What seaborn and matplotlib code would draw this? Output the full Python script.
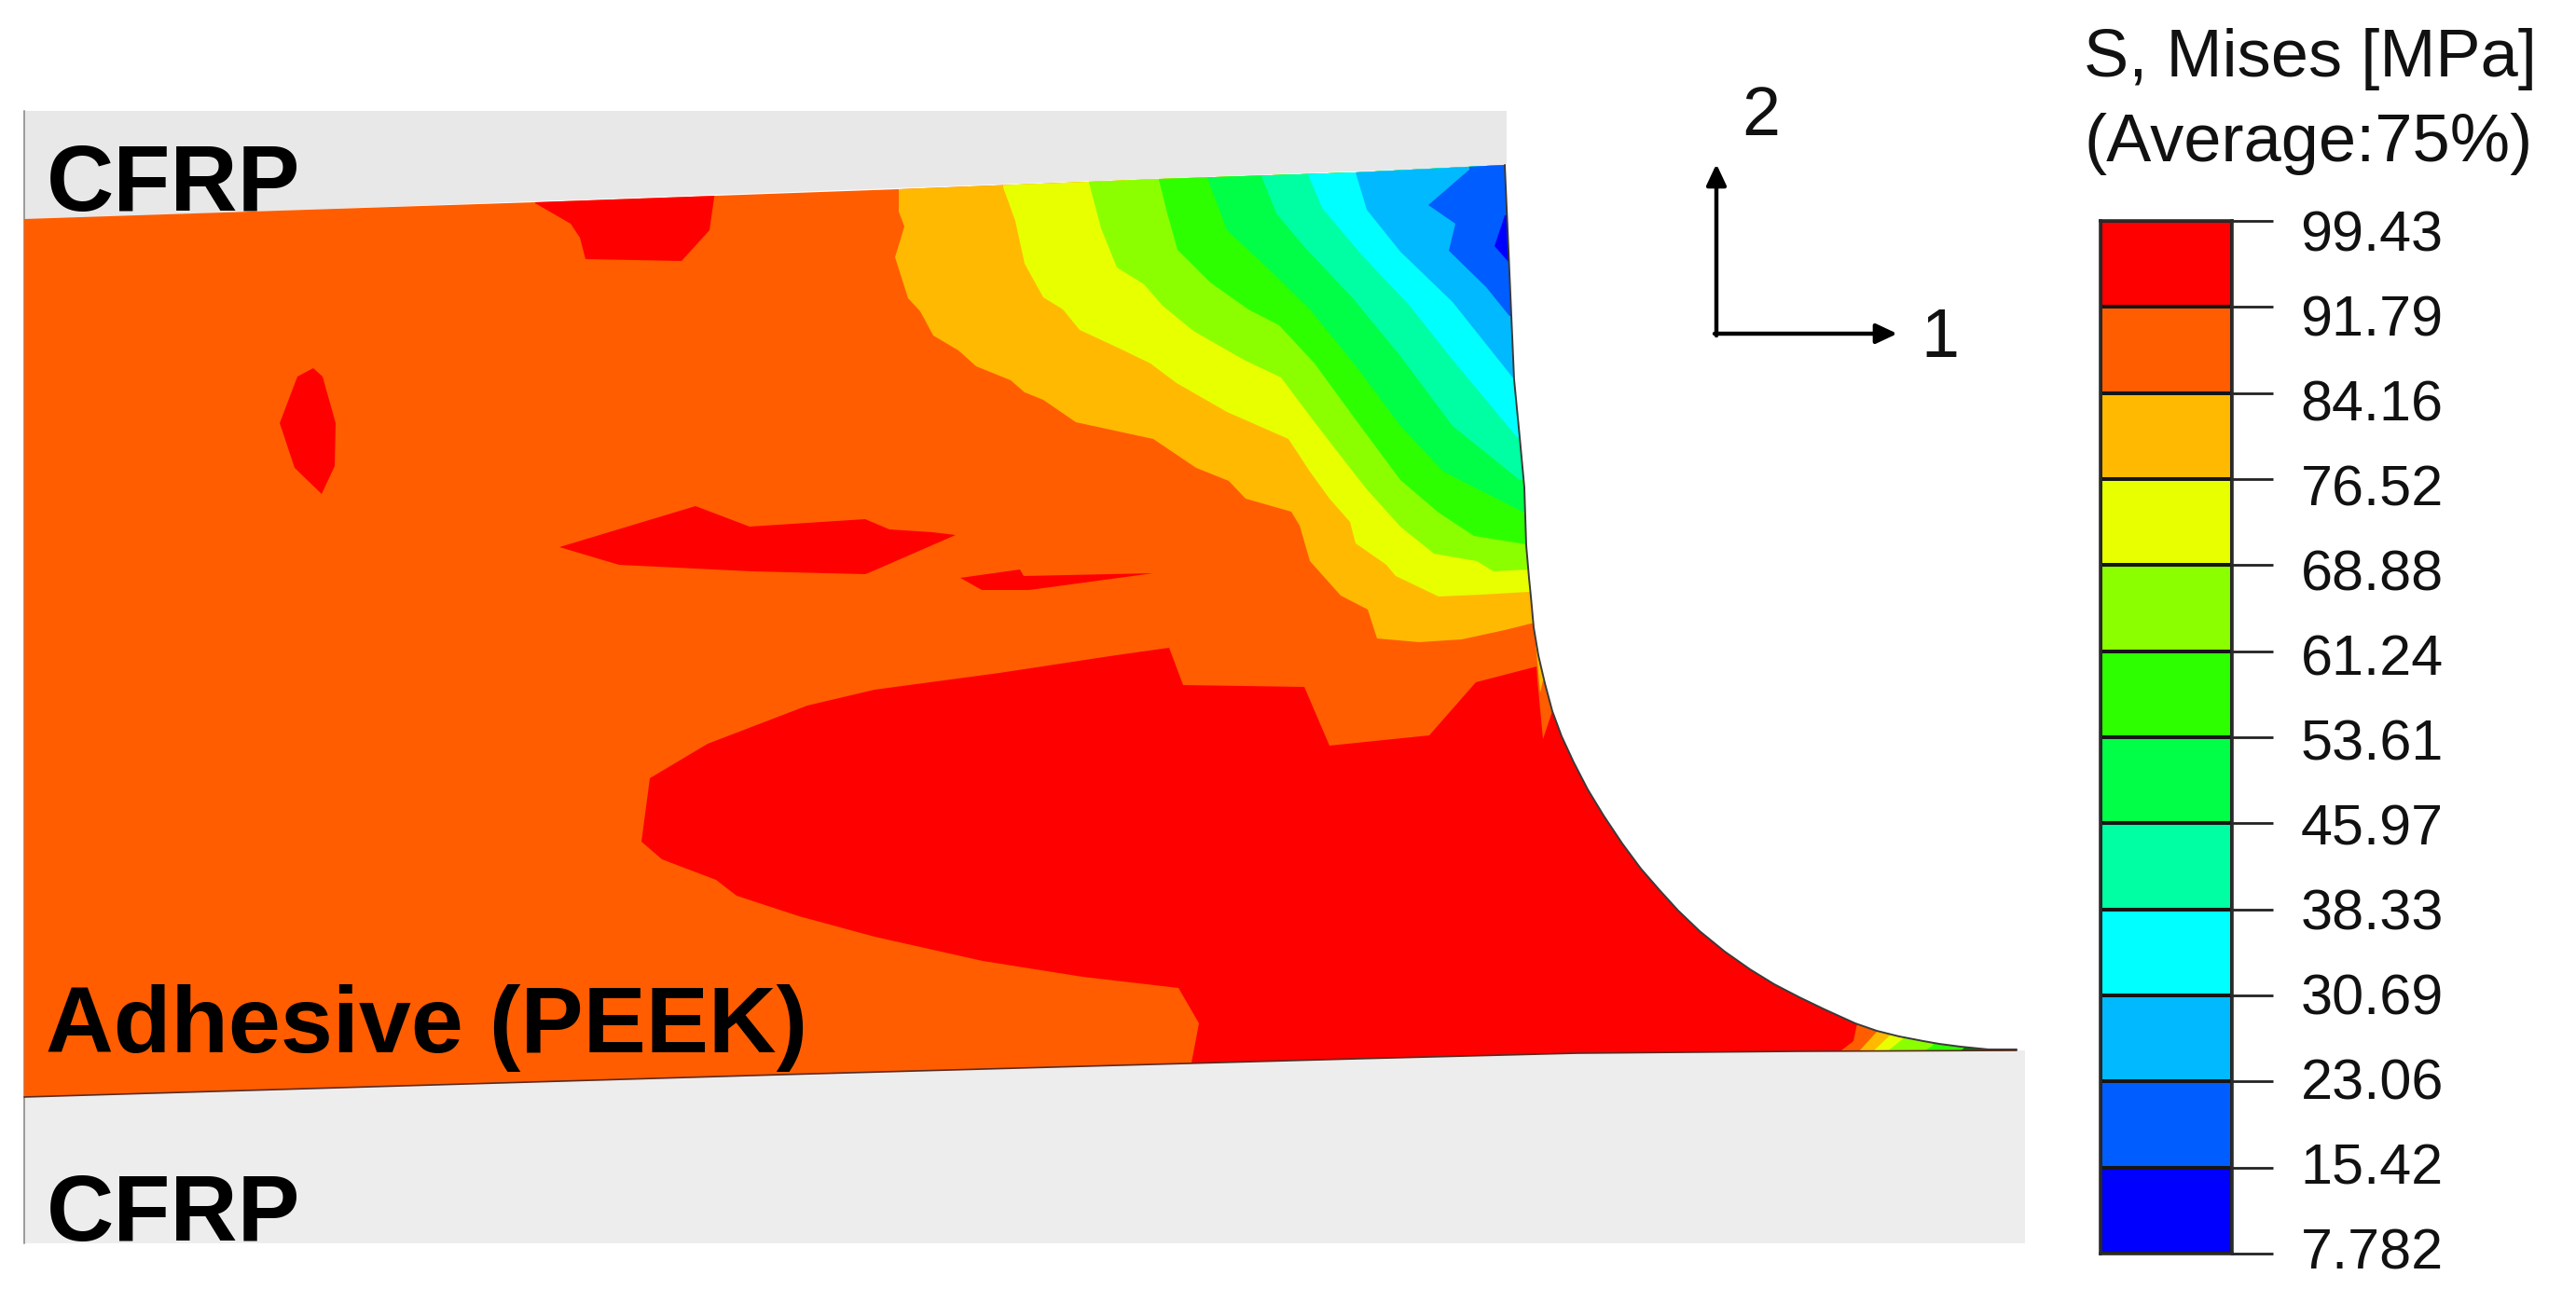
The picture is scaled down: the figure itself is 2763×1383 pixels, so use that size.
import numpy as np
import matplotlib
matplotlib.use("Agg")
import matplotlib.pyplot as plt
from matplotlib.colors import ListedColormap
from matplotlib.transforms import ScaledTranslation
import seaborn as sns

# ---- legend data
LEVEL_LABELS = ["99.43", "91.79", "84.16", "76.52", "68.88", "61.24", "53.61",
                "45.97", "38.33", "30.69", "23.06", "15.42", "7.782"]
LEVELS = [99.43, 91.79, 84.16, 76.52, 68.88, 61.24, 53.61, 45.97, 38.33, 30.69, 23.06, 15.42, 7.782]
BAND_COLORS = ["#FF0000", "#FF5D00", "#FFB900", "#E8FF00", "#8BFF00", "#2EFF00",
               "#00FF46", "#00FFA2", "#00FFFF", "#00B9FF", "#005DFF", "#0000FF"]

# ---- geometry of the model (x, y in image pixels)
TOP_EDGE = [(26, 235), (574, 217), (964, 203), (1243, 192), (1454, 185), (1614, 177)]
FILLET_EDGE = [(1614, 177), (1624, 407), (1630, 469), (1635, 523), (1637, 585), (1640, 620), (1642, 640),
               (1645, 673), (1650, 703), (1657, 733), (1665, 763), (1675, 790), (1688, 818), (1703, 847),
               (1720, 875), (1740, 905), (1760, 932), (1780, 955), (1800, 977), (1823, 999), (1850, 1021),
               (1877, 1040), (1903, 1056), (1930, 1070), (1957, 1083), (1990, 1098), (2013, 1106), (2037, 1112),
               (2063, 1117), (2080, 1120), (2103, 1123), (2133, 1126), (2163, 1126)]
BOTTOM_EDGE = [(2163, 1127), (1927, 1128), (1691, 1130), (1455, 1136), (1200, 1143), (839, 1153), (26, 1177)]

# ---- band boundaries, top edge to fillet edge
C_84 = [(964, 204), (964, 227), (970, 243), (960, 276), (974, 320), (987, 334), (1001, 360), (1028, 376),
        (1047, 393), (1084, 408), (1099, 421), (1119, 429), (1154, 453), (1237, 471), (1283, 502), (1318, 516),
        (1336, 535), (1385, 549), (1394, 564), (1405, 602), (1438, 639), (1467, 654), (1477, 685), (1522, 689),
        (1568, 686), (1614, 676), (1642, 669)]
C_76 = [(1076, 201), (1089, 237), (1099, 283), (1119, 319), (1140, 332), (1158, 354), (1201, 374), (1234, 390),
        (1262, 411), (1316, 442), (1382, 471), (1405, 506), (1426, 535), (1448, 560), (1454, 583), (1487, 606),
        (1497, 618), (1543, 640), (1589, 638), (1640, 635)]
C_69 = [(1168, 196), (1181, 245), (1198, 287), (1227, 305), (1247, 328), (1280, 355), (1334, 386), (1374, 405),
        (1410, 453), (1451, 506), (1466, 525), (1502, 565), (1538, 594), (1584, 602), (1602, 613), (1639, 611)]
C_61 = [(1243, 193), (1252, 229), (1263, 268), (1298, 303), (1339, 332), (1372, 349), (1410, 390), (1456, 453),
        (1502, 515), (1543, 550), (1581, 575), (1637, 584)]
C_54 = [(1295, 191), (1316, 247), (1359, 287), (1405, 332), (1456, 395), (1502, 457), (1548, 506), (1635, 550)]
C_46 = [(1353, 189), (1369, 229), (1400, 266), (1451, 320), (1502, 382), (1558, 457), (1630, 515)]
C_38 = [(1403, 187), (1418, 223), (1461, 274), (1512, 328), (1558, 386), (1627, 469)]
C_31 = [(1454, 185), (1466, 225), (1502, 270), (1558, 324), (1624, 407)]
C_23 = [(1576, 182), (1532, 220), (1561, 240), (1554, 269), (1594, 308), (1619, 339)]
POCKET_15 = [(1614, 231), (1603, 264), (1618, 281), (1700, 281), (1700, 231)]

# ---- islands above 91.79 MPa
RED_MAIN = [(688, 903), (697, 835), (759, 798), (866, 757), (938, 740), (1072, 722), (1197, 703), (1254, 695),
            (1269, 735), (1399, 737), (1426, 800), (1533, 789), (1583, 732), (1660, 712), (2100, 712),
            (2100, 1000), (1992, 1090), (1992, 1098), (1988, 1117), (1975, 1127), (1975, 1150), (1278, 1150),
            (1278, 1140), (1286, 1098), (1264, 1060), (1161, 1048), (1054, 1031), (938, 1005), (857, 983),
            (790, 961), (768, 944), (710, 922)]
RED_TOP = [(574, 210), (574, 218), (612, 240), (622, 255), (628, 278), (731, 280), (761, 247), (767, 205)]
RED_DIAMOND = [(336, 395), (319, 404), (300, 454), (316, 502), (345, 530), (359, 500), (360, 454), (346, 404)]
RED_MIDDLE = [(600, 587), (746, 543), (804, 565), (928, 557), (954, 568), (1000, 571), (1025, 574), (931, 615),
              (928, 616), (807, 613), (664, 606)]
RED_SMALL = [(1030, 620), (1094, 611), (1098, 618), (1237, 615), (1104, 633), (1053, 633)]

# ---- slivers on the free surface
SLIVER_ORANGE = [(1647, 697), (1649, 730), (1655, 793), (1665, 763), (1700, 763), (1700, 697)]
SLIVER_AMBER = [(1646, 680), (1652, 743), (1655, 730), (1700, 730), (1700, 680)]

# ---- bands at the tip of the fillet
TIP_84 = [(1992, 1130), (2013, 1107), (2020, 1095), (2200, 1095), (2200, 1130)]
TIP_76 = [(2007, 1130), (2028, 1110), (2035, 1095), (2200, 1095), (2200, 1130)]
TIP_69 = [(2022, 1130), (2043, 1113), (2050, 1095), (2200, 1095), (2200, 1130)]
TIP_61 = [(2060, 1130), (2073, 1122), (2080, 1095), (2200, 1095), (2200, 1130)]
TIP_DARK = [(2100, 1130), (2107, 1124), (2110, 1095), (2200, 1095), (2200, 1130)]

# ---- substrates
TOP_CFRP = [(26, 119), (1616, 119), (1616, 178), (26, 236)]
BOTTOM_CFRP = [(26, 1177), (839, 1153), (1200, 1143), (1455, 1136), (1691, 1130), (1927, 1128), (2172, 1127),
               (2172, 1334), (26, 1334)]

sns.set_theme(style="white")
plt.rcParams["font.family"] = ["Liberation Sans", "DejaVu Sans"]

W, H = 2763, 1383
fig = plt.figure(figsize=(W / 100, H / 100), dpi=100, facecolor="white")
ax = fig.add_axes([0, 0, 1, 1])
ax.set_xlim(0, W)
ax.set_ylim(H, 0)
ax.axis("off")


def poly(points, color, zorder=2, clip=None):
    xs, ys = zip(*points)
    artists = ax.fill(xs, ys, color=color, lw=0, zorder=zorder)
    if clip is not None:
        for a in artists:
            a.set_clip_path(clip)
    return artists


poly(TOP_CFRP, "#E8E8E8", 1)
poly(BOTTOM_CFRP, "#EDEDED", 1)
ax.plot([26, 26], [119, 1334], color="#9A9A9A", lw=1.4, zorder=1.5)

ax.text(50, 226, "CFRP", fontsize=72, fontweight="bold", color="black", va="baseline", zorder=1.6)

outline = TOP_EDGE + FILLET_EDGE[1:] + BOTTOM_EDGE
adhesive = poly(outline, BAND_COLORS[1], 2)[0]

poly(RED_MAIN, BAND_COLORS[0], 3, adhesive)
for island in (RED_TOP, RED_DIAMOND, RED_MIDDLE, RED_SMALL):
    poly(island, BAND_COLORS[0], 3, adhesive)

for i, curve in enumerate((C_84, C_76, C_69, C_61, C_54, C_46, C_38, C_31, C_23)):
    closed = [(curve[0][0], 100)] + curve + [(1720, curve[-1][1]), (1720, 100)]
    poly(closed, BAND_COLORS[i + 2], 4 + i * 0.1, adhesive)
poly(POCKET_15, BAND_COLORS[11], 5, adhesive)
poly(SLIVER_ORANGE, BAND_COLORS[1], 5, adhesive)
poly(SLIVER_AMBER, BAND_COLORS[2], 5.1, adhesive)

for shape, colour, z in ((TIP_84, BAND_COLORS[2], 5), (TIP_76, BAND_COLORS[3], 5.1),
                         (TIP_69, BAND_COLORS[4], 5.2), (TIP_61, BAND_COLORS[5], 5.3),
                         (TIP_DARK, "#007A00", 5.4)):
    poly(shape, colour, z, adhesive)

fx, fy = zip(*FILLET_EDGE)
ax.plot(fx, fy, color="#3A3A3A", lw=1.4, zorder=6, solid_joinstyle="round")
bx, by = zip(*BOTTOM_EDGE)
ax.plot(bx, by, color="#5A2A20", lw=1.2, zorder=6)

ax.text(49, 1129, "Adhesive (PEEK)", fontsize=72.5, fontweight="bold", color="black", va="baseline", zorder=7)
ax.text(50, 1331, "CFRP", fontsize=72, fontweight="bold", color="black", va="baseline", zorder=7)

# coordinate triad
arrow = dict(arrowstyle="-|>,head_length=0.68,head_width=0.32", color="black", lw=3.2,
             mutation_scale=20, shrinkA=0, shrinkB=0)
ax.annotate("", xy=(1841, 176), xytext=(1841, 360), arrowprops=arrow, zorder=7)
ax.annotate("", xy=(2035, 358), xytext=(1839, 358), arrowprops=arrow, zorder=7)
ax.text(1889, 145, "2", fontsize=53, color="#111111", ha="center", va="baseline")
ax.text(2081, 383, "1", fontsize=53, color="#111111", ha="center", va="baseline")

# legend title
ax.text(2235, 82, "S, Mises [MPa]", fontsize=52, color="#111111", va="baseline")
ax.text(2235, 173, "(Average:75%)", fontsize=52, color="#111111", va="baseline")

# legend
cax = fig.add_axes([2253 / W, 1 - 1345 / H, 141 / W, 1108 / H])
mids = [(a + b) / 2 for a, b in zip(LEVELS[:-1], LEVELS[1:])]
sns.heatmap(np.array(mids).reshape(-1, 1), ax=cax, cbar=False, xticklabels=False, yticklabels=False,
            cmap=ListedColormap(BAND_COLORS[::-1]), vmin=LEVELS[-1], vmax=LEVELS[0],
            linewidths=2.6, linecolor="#151515")
for s in cax.spines.values():
    s.set_visible(True)
    s.set_color("#2A2A2A")
    s.set_linewidth(2.6)
cax.set_yticks(np.arange(len(LEVEL_LABELS)))
cax.set_yticklabels(LEVEL_LABELS, rotation=0, fontsize=44, color="#111111")
cax.tick_params(axis="y", left=False, right=True, labelleft=False, labelright=True,
                length=32, width=2, color="#222222", pad=21)
n = len(LEVEL_LABELS) - 1
for i, lab in enumerate(cax.get_yticklabels()):
    shift_px = 10 - 15 * i / n
    lab.set_transform(lab.get_transform() + ScaledTranslation(0, -shift_px / 100, fig.dpi_scale_trans))

fig.savefig("out.png", dpi=100, facecolor="white")
